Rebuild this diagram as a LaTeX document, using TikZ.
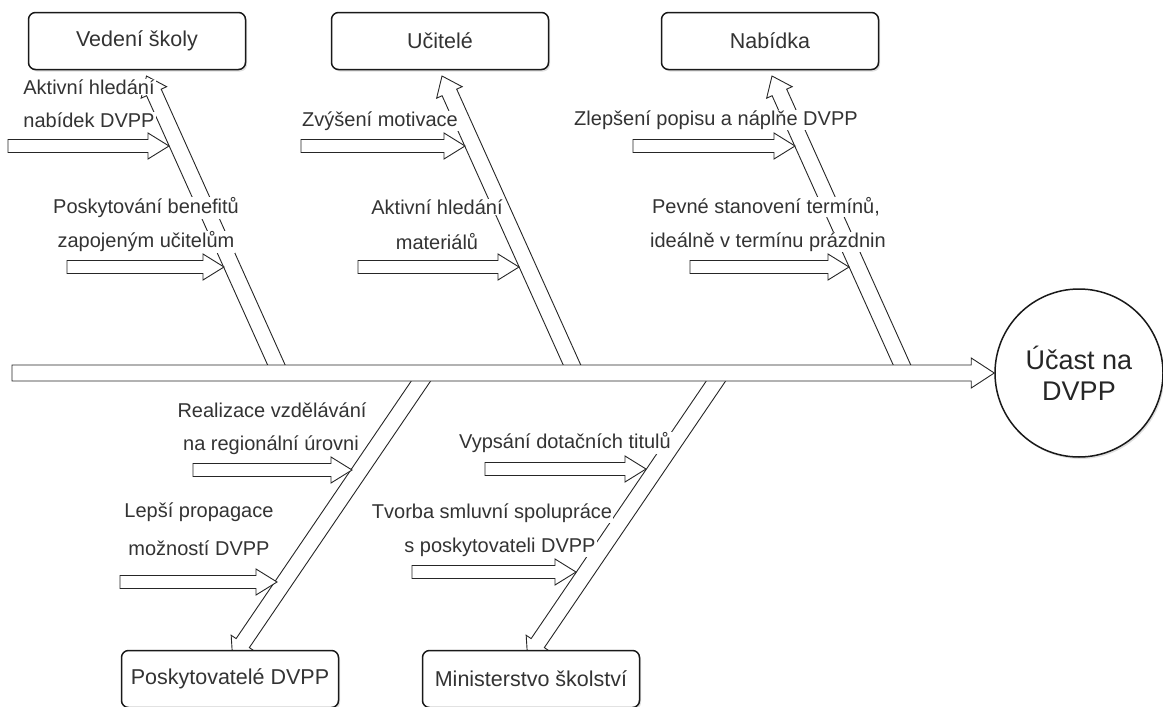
\documentclass[tikz,border=0pt]{standalone}
\usepackage{fontspec}
\setmainfont{Liberation Sans}
\usetikzlibrary{calc,shadows,backgrounds}

% hollow block arrow: from, to, shaft half width, head half width, head length
\newcommand{\hollowarrow}[5]{%
  \path let \p1=($(#2)-(#1)$) in
    \pgfextra{\pgfmathsetmacro{\haang}{atan2(\y1,\x1)}\xdef\haang{\haang}%
      \pgfmathsetmacro{\halen}{veclen(\x1,\y1)}\xdef\halen{\halen}};
  \draw[arrowline, shift={(#1)}, rotate=\haang]
    (0pt,-#3) -- ({\halen pt-#5},-#3) -- ({\halen pt-#5},-#4) -- (\halen pt,0pt)
    -- ({\halen pt-#5},#4) -- ({\halen pt-#5},#3) -- (0pt,#3) -- cycle;}

\begin{document}
\begin{tikzpicture}
  [x=1pt,y=-1pt,
   arrowline/.style={draw=black!85,line width=0.9pt,fill=white,line join=miter},
   box/.style={draw=black!90,line width=1.5pt,rounded corners=7pt,fill=white,
     minimum width=217pt,minimum height=57pt,text=black!80,
     font=\fontsize{21.5}{25}\selectfont,
     drop shadow={shadow xshift=1.5pt,shadow yshift=-2pt,opacity=0.25}},
   effect/.style={circle,draw=black!90,line width=1.5pt,fill=white,
     minimum size=168pt,inner sep=0pt,align=center,text=black!85,
     font=\fontsize{27}{31}\selectfont,
     drop shadow={shadow xshift=1.5pt,shadow yshift=-2pt,opacity=0.25}},
   cause/.style={fill=white,inner sep=1pt,text=black!80,
     font=\fontsize{20}{23}\selectfont}]
  \useasboundingbox (0,0) rectangle (1163,707);

  % categories and effect
  \node[box] (vedeni) at (137,41) {Vedení školy};
  \node[box] (ucitele) at (440,41) {Učitelé};
  \node[box] (nabidka) at (770,41) {Nabídka};
  \node[box] (poskyt) at (230,679) {Poskytovatelé DVPP};
  \node[box] (minist) at (531,679) {Ministerstvo školství};
  \node[effect] (effect) at (1079,373) {Účast na\\DVPP};

  % causes
  \node[cause] (c1a) at (89,87) {Aktivní hledání};
  \node[cause] (c1b) at (89,120) {nabídek DVPP};
  \node[cause] (c2a) at (146,208) {Poskytování benefitů};
  \node[cause] (c2b) at (146,242) {zapojeným učitelům};
  \node[cause] (c3a) at (380,121) {Zvýšení motivace};
  \node[cause] (c4a) at (437,207) {Aktivní hledání};
  \node[cause] (c4b) at (437,242) {materiálů};
  \node[cause] (c5a) at (716,120) {Zlepšení popisu a náplňe DVPP};
  \node[cause] (c6a) at (766,207) {Pevné stanovení termínů,};
  \node[cause] (c6b) at (768,242) {ideálně v termínu prázdnin};
  \node[cause] (c7a) at (272,410) {Realizace vzdělávání};
  \node[cause] (c7b) at (271,445) {na regionální úrovni};
  \node[cause] (c8a) at (199,512) {Lepší propagace};
  \node[cause] (c8b) at (199,548) {možností DVPP};
  \node[cause] (c9a) at (565,443) {Vypsání dotačních titulů};
  \node[cause] (c10a) at (492,513) {Tvorba smluvní spolupráce};
  \node[cause] (c10b) at (500,547) {s poskytovateli DVPP};

  \coordinate (tail) at (12,373);
  \coordinate (vedeni-base) at (280,373);
  \coordinate (vedeni-tip) at (146.5,76);
  \coordinate (ucitele-base) at (575.6,373);
  \coordinate (ucitele-tip) at (442,76);
  \coordinate (nabidka-base) at (905.6,373);
  \coordinate (nabidka-tip) at (772,76);
  \coordinate (poskyt-base) at (426.4,373);
  \coordinate (poskyt-tip) at (232.6,658);
  \coordinate (minist-base) at (721.4,373);
  \coordinate (minist-tip) at (527.6,658);

  \begin{pgfonlayer}{background}
    \foreach \b in {vedeni,ucitele,nabidka,poskyt,minist}
      \hollowarrow{\b-base}{\b-tip}{8pt}{14pt}{18pt};
    \hollowarrow{tail}{effect.west}{8pt}{15pt}{23pt}
    \foreach \k/\xa/\xb/\ya in {1/8/169/146, 2/67/224/267, 3/301/465/146,
        4/358/519/267, 5/633/795/146, 6/690/849/267, 7/193/352/470,
        8/120/277/582, 9/485/646/469, 10/412/576/572}{
      \coordinate (s\k) at (\xa,\ya);
      \coordinate (t\k) at (\xb,\ya);
      \hollowarrow{s\k}{t\k}{6.5pt}{13pt}{21pt}
    }
  \end{pgfonlayer}
\end{tikzpicture}
\end{document}
